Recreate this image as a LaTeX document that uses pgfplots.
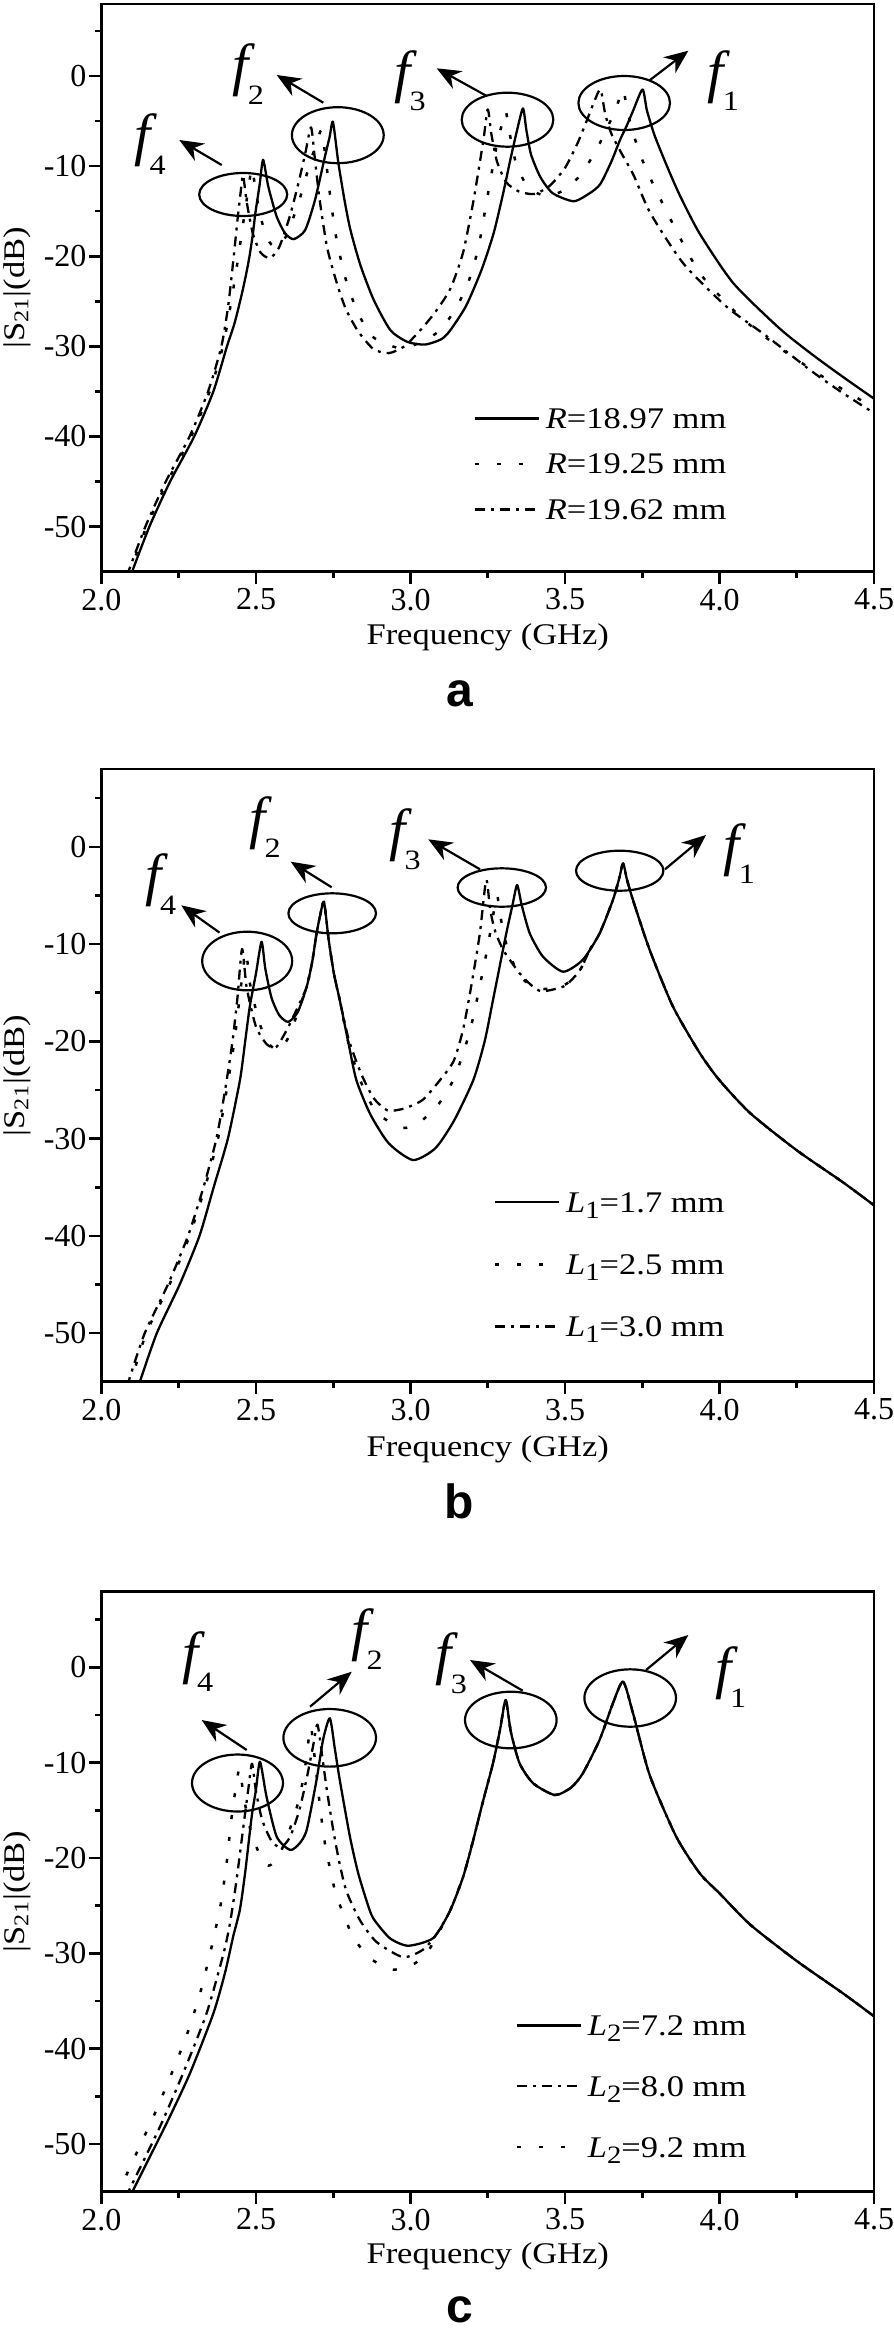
\documentclass[border=0pt]{standalone}
\usepackage{fontspec}
\setmainfont{Liberation Serif}
\newfontfamily\widefont{Liberation Serif}[FakeStretch=1.15]
\newfontfamily\sflab{Liberation Sans}
\usepackage{pgfplots}
\pgfplotsset{compat=1.18}
\usetikzlibrary{arrows.meta}
\newcommand\ticksfont{\fontsize{16}{19}\selectfont}
\newcommand\labfont{\widefont\fontsize{15}{18}\selectfont}
\newcommand\flab[1]{{\fontsize{29}{29}\selectfont\itshape f}\kern-0.5pt\raisebox{-9.75pt}{\widefont\fontsize{14}{14}\selectfont #1}}
\newcommand\sublab[1]{{\sflab\bfseries\fontsize{24}{24}\selectfont #1}}
\newcommand\sub[1]{\raisebox{-3pt}{\widefont\fontsize{12.5}{12.5}\selectfont #1}}
\newcommand\leg[1]{{\widefont\fontsize{15}{18}\selectfont #1}}
\pgfplotsset{
  myaxis/.style={
    scale only axis, width=386.25pt,
    xmin=2, xmax=4.5, ymin=-55, ymax=8,
    xtick={2,2.5,3,3.5,4,4.5}, ytick={-50,-40,-30,-20,-10,0},
    minor xtick={2.25,2.75,3.25,3.75,4.25},
    minor ytick={-45,-35,-25,-15,-5,5},
    xtick pos=bottom, ytick pos=left, tick align=outside,
    major tick length=6pt, minor tick length=3.2pt,
    every tick/.style={black, line width=1.3pt},
    axis line style={line width=1.4pt},
    /pgf/number format/assume math mode=true,
    xticklabel style={/pgf/number format/fixed, /pgf/number format/fixed zerofill, /pgf/number format/precision=1, yshift=1pt},
    yticklabel style={xshift=2pt},
    tick label style={font=\ticksfont},
    label style={font=\labfont},
    xlabel={Frequency (GHz)},
    ylabel={|S\textsubscript{21}|(dB)},
    ylabel style={at={(axis description cs:-0.1094,0.5)}, anchor=center},
    legend style={draw=none, fill=none, inner sep=0pt, anchor=north west, font=\labfont,
      nodes={inner sep=0pt, text height=11pt, text depth=3.5pt, anchor=base west}},
    legend cell align=left,
    legend image code/.code={\draw[##1] (0pt,5pt) -- (32pt,5pt); \path (35pt,5pt);},
    no markers,
  },
  sol/.style={black, line width=1.15pt, line join=round, solid, smooth, tension=0.4},
  dott/.style={black, line width=1.25pt, line join=round, dash pattern=on 2pt off 9pt, smooth, tension=0.4},
  dashdot/.style={black, line width=1.15pt, line join=round, dash pattern=on 5pt off 3pt on 1.5pt off 3pt, smooth, tension=0.4},
}
\begin{document}
\begin{tikzpicture}
\path[use as bounding box] (0,0) rectangle (447pt,-1164.5pt);
% ---------------- panel a ----------------
\begin{axis}[myaxis, at={(50.75pt,-1.95pt)}, anchor=north west, height=283.9pt,
  xlabel style={at={(axis description cs:0.5,0)}, anchor=center, yshift=-32.65pt},
  legend style={at={(axis description cs:0.4809,0.2918)}, row sep=8.25pt}]
\addplot[sol] coordinates {(2.094,-55.5) (2.099,-55) (2.155,-50) (2.222,-45) (2.300,-40) (2.362,-35) (2.406,-30) (2.430,-27.5) (2.452,-24.5) (2.468,-22) (2.479,-20) (2.490,-17.5) (2.498,-15.2) (2.512,-12) (2.523,-9.3) (2.540,-12.3) (2.567,-15.6) (2.594,-17.45) (2.622,-18.1) (2.659,-17.1) (2.691,-13.75) (2.723,-8.95) (2.738,-6.8) (2.749,-5.1) (2.766,-9.5) (2.785,-13.5) (2.805,-17) (2.838,-21) (2.881,-24.85) (2.935,-28.2) (2.99,-29.5) (3.047,-29.8) (3.10,-29.2) (3.129,-28.2) (3.18,-25.5) (3.23,-21.5) (3.269,-17.45) (3.30,-13) (3.323,-9.3) (3.345,-6.0) (3.364,-3.6) (3.375,-6.0) (3.39,-8.7) (3.42,-11.2) (3.46,-13.0) (3.528,-13.9) (3.58,-13.0) (3.614,-12.0) (3.65,-9.5) (3.678,-7.1) (3.70,-5.5) (3.721,-3.8) (3.751,-1.5) (3.765,-3.8) (3.79,-6.6) (3.83,-10.0) (3.871,-13.2) (3.936,-17.5) (4.045,-23.0) (4.194,-28.0) (4.30,-30.9) (4.40,-33.4) (4.50,-35.8)};
\addlegendentry{\leg{\textit{R}=18.97 mm}}
\addplot[dott] coordinates {(2.087,-55.5) (2.092,-55) (2.146,-50) (2.213,-45) (2.290,-40) (2.350,-35) (2.393,-30) (2.420,-25) (2.443,-20) (2.462,-15.5) (2.475,-12.6) (2.487,-10.2) (2.50,-13) (2.52,-16.3) (2.545,-18.5) (2.57,-19.0) (2.60,-17.6) (2.64,-13.8) (2.675,-9.6) (2.695,-7.6) (2.712,-6.0) (2.725,-9.0) (2.74,-13.3) (2.76,-18.0) (2.79,-22.5) (2.83,-26.3) (2.88,-29.0) (2.964,-30.2) (3.03,-29.6) (3.096,-28.2) (3.15,-25.6) (3.19,-22.6) (3.22,-19.0) (3.247,-13.8) (3.28,-7.5) (3.295,-5.5) (3.308,-3.9) (3.32,-6.2) (3.34,-9.5) (3.37,-11.8) (3.41,-13.0) (3.45,-13.3) (3.50,-12.6) (3.55,-11.0) (3.60,-8.3) (3.64,-5.5) (3.665,-3.6) (3.688,-1.5) (3.70,-3.6) (3.72,-6.3) (3.75,-9.3) (3.781,-11.7) (3.846,-16.2) (3.937,-21.9) (4.067,-26.7) (4.20,-30.3) (4.30,-32.6) (4.40,-34.8) (4.50,-36.8)};
\addlegendentry{\leg{\textit{R}=19.25 mm}}
\addplot[dashdot] coordinates {(2.082,-55.5) (2.087,-55) (2.142,-50) (2.208,-45) (2.285,-40) (2.345,-35) (2.388,-30) (2.410,-25.5) (2.428,-20) (2.440,-16) (2.450,-13) (2.458,-11.0) (2.470,-14) (2.490,-17.5) (2.515,-19.6) (2.545,-20.2) (2.575,-19.0) (2.61,-15.5) (2.64,-11.5) (2.66,-8.5) (2.678,-5.7) (2.69,-9.0) (2.705,-13.5) (2.73,-19.0) (2.76,-22.8) (2.79,-25.8) (2.83,-28.3) (2.88,-30.3) (2.93,-30.75) (2.98,-30.0) (3.032,-28.2) (3.08,-26.2) (3.129,-23.6) (3.17,-19.6) (3.204,-13.8) (3.236,-7.1) (3.25,-3.7) (3.262,-6.5) (3.28,-9.5) (3.31,-11.8) (3.35,-12.8) (3.40,-13.1) (3.45,-12.2) (3.50,-10.2) (3.54,-7.5) (3.57,-5.0) (3.595,-2.8) (3.615,-1.5) (3.63,-4.2) (3.65,-6.4) (3.68,-8.4) (3.722,-11.0) (3.776,-15.2) (3.883,-20.8) (4.023,-25.6) (4.15,-28.8) (4.30,-32.8) (4.40,-35.2) (4.50,-37.4)};
\addlegendentry{\leg{\textit{R}=19.62 mm}}
\end{axis}
% ---------------- panel b ----------------
\begin{axis}[myaxis, at={(50.75pt,-384.5pt)}, anchor=north west, height=306.4pt,
  xlabel style={at={(axis description cs:0.5,0)}, anchor=center, yshift=-33.6pt},
  legend style={at={(axis description cs:0.5071,0.3135)}, row sep=16.6pt}]
\addplot[sol] coordinates {(2.119,-55.5) (2.124,-55) (2.179,-50) (2.253,-45) (2.317,-40) (2.363,-35) (2.409,-30) (2.448,-24) (2.465,-20) (2.480,-16.4) (2.50,-13) (2.518,-9.76) (2.53,-12.5) (2.55,-15.5) (2.575,-17.3) (2.604,-18.0) (2.635,-17.0) (2.664,-14.4) (2.682,-11.8) (2.696,-8.9) (2.708,-7.0) (2.72,-5.64) (2.735,-9.5) (2.752,-13.0) (2.771,-15.75) (2.80,-20.3) (2.825,-24.0) (2.87,-27.5) (2.93,-30.5) (3.008,-32.2) (3.08,-31.0) (3.14,-28.2) (3.203,-24.0) (3.24,-20.0) (3.267,-15.75) (3.31,-8.9) (3.33,-6.0) (3.345,-3.93) (3.36,-6.0) (3.386,-8.9) (3.429,-11.3) (3.494,-12.84) (3.558,-11.6) (3.612,-8.9) (3.655,-5.47) (3.675,-3.3) (3.688,-1.7) (3.70,-3.3) (3.72,-5.47) (3.774,-10.6) (3.849,-16.4) (3.936,-21.2) (4.0,-24.0) (4.1,-27.4) (4.25,-31.2) (4.4,-34.5) (4.5,-36.85)};
\addlegendentry{\leg{\textit{L}\sub{1}=1.7 mm}}
\addplot[dott] coordinates {(2.090,-55.5) (2.095,-55) (2.145,-50) (2.220,-45) (2.285,-40) (2.335,-35) (2.377,-30) (2.405,-25) (2.430,-20) (2.447,-15.5) (2.467,-10.8) (2.48,-14.0) (2.51,-18.0) (2.54,-20.2) (2.575,-20.9) (2.61,-19.3) (2.64,-16.5) (2.664,-14.4) (2.682,-11.8) (2.696,-8.9) (2.708,-7.0) (2.72,-5.64) (2.735,-9.5) (2.752,-13.0) (2.771,-15.75) (2.80,-20.3) (2.84,-24.2) (2.89,-27.3) (2.972,-28.9) (3.03,-28.3) (3.09,-26.5) (3.138,-24.0) (3.175,-20.8) (3.203,-17.5) (3.246,-10.9) (3.265,-7.5) (3.28,-5.0) (3.29,-7.0) (3.31,-10.0) (3.34,-12.5) (3.37,-13.8) (3.42,-14.6) (3.46,-14.5) (3.504,-14.1) (3.548,-12.7) (3.58,-10.6) (3.612,-8.9) (3.655,-5.47) (3.675,-3.3) (3.688,-1.7) (3.70,-3.3) (3.72,-5.47) (3.774,-10.6) (3.849,-16.4) (3.936,-21.2) (4.0,-24.0) (4.1,-27.4) (4.25,-31.2) (4.4,-34.5) (4.5,-36.85)};
\addlegendentry{\leg{\textit{L}\sub{1}=2.5 mm}}
\addplot[dashdot] coordinates {(2.082,-55.5) (2.087,-55) (2.140,-50) (2.215,-45) (2.280,-40) (2.330,-35) (2.372,-30) (2.400,-25) (2.424,-20) (2.440,-15.5) (2.455,-10.5) (2.47,-14.5) (2.50,-18.5) (2.535,-20.3) (2.565,-20.6) (2.60,-18.8) (2.635,-16.5) (2.664,-14.4) (2.682,-11.8) (2.696,-8.9) (2.708,-7.0) (2.72,-5.64) (2.735,-9.5) (2.752,-13.0) (2.771,-15.75) (2.80,-19.8) (2.84,-23.3) (2.88,-25.8) (2.926,-27.1) (2.98,-26.9) (3.04,-26.0) (3.095,-24.0) (3.14,-22.0) (3.17,-18.8) (3.195,-14.6) (3.224,-9.0) (3.245,-3.4) (3.258,-6.5) (3.275,-8.8) (3.30,-10.6) (3.321,-11.6) (3.353,-13.0) (3.39,-14.2) (3.423,-14.86) (3.47,-14.6) (3.504,-14.2) (3.548,-12.7) (3.58,-10.6) (3.612,-8.9) (3.655,-5.47) (3.675,-3.3) (3.688,-1.7) (3.70,-3.3) (3.72,-5.47) (3.774,-10.6) (3.849,-16.4) (3.936,-21.2) (4.0,-24.0) (4.1,-27.4) (4.25,-31.2) (4.4,-34.5) (4.5,-36.85)};
\addlegendentry{\leg{\textit{L}\sub{1}=3.0 mm}}
\end{axis}
% ---------------- panel c ----------------
\begin{axis}[myaxis, at={(50.75pt,-795.55pt)}, anchor=north west, height=300.3pt,
  xlabel style={at={(axis description cs:0.5,0)}, anchor=center, yshift=-32.15pt},
  legend style={at={(axis description cs:0.5353,0.2975)}, row sep=15.9pt}]
\addplot[sol] coordinates {(2.096,-55.5) (2.100,-55) (2.211,-47.8) (2.286,-42.6) (2.362,-36.3) (2.40,-32) (2.426,-28.25) (2.448,-25.4) (2.465,-21.5) (2.486,-15.66) (2.50,-12.8) (2.513,-9.89) (2.534,-13.56) (2.567,-17.76) (2.610,-19.15) (2.64,-18.5) (2.664,-17.06) (2.696,-11.8) (2.717,-7.6) (2.739,-5.34) (2.755,-8.5) (2.771,-11.8) (2.804,-17.76) (2.83,-21.5) (2.858,-24.5) (2.879,-26.3) (2.933,-28.4) (2.992,-29.2) (3.073,-28.4) (3.127,-25.6) (3.17,-22.0) (3.20,-18.5) (3.235,-14.0) (3.267,-10.06) (3.29,-6.5) (3.308,-3.42) (3.325,-6.8) (3.353,-10.06) (3.397,-12.16) (3.467,-13.39) (3.52,-12.6) (3.558,-11.1) (3.612,-7.6) (3.655,-3.77) (3.688,-1.5) (3.720,-4.8) (3.774,-11.3) (3.860,-17.76) (3.936,-21.6) (4.0,-23.7) (4.1,-27.0) (4.25,-30.8) (4.4,-34.2) (4.5,-36.6)};
\addlegendentry{\leg{\textit{L}\sub{2}=7.2 mm}}
\addplot[dashdot] coordinates {(2.082,-55.5) (2.087,-55) (2.189,-48.2) (2.265,-42.5) (2.340,-36.3) (2.395,-30) (2.416,-26.8) (2.437,-22.3) (2.46,-16.5) (2.475,-12.8) (2.487,-10.1) (2.50,-13.0) (2.52,-16.0) (2.55,-18.2) (2.58,-18.9) (2.61,-17.8) (2.64,-15.0) (2.665,-11.5) (2.685,-8.2) (2.699,-6.0) (2.715,-9.5) (2.73,-13.0) (2.750,-17.06) (2.77,-20.5) (2.793,-23.5) (2.836,-26.5) (2.890,-28.8) (2.976,-30.4) (3.041,-29.6) (3.084,-28.0) (3.127,-25.6) (3.17,-22.0) (3.20,-18.5) (3.235,-14.0) (3.267,-10.06) (3.29,-6.5) (3.308,-3.42) (3.325,-6.8) (3.353,-10.06) (3.397,-12.16) (3.467,-13.39) (3.52,-12.6) (3.558,-11.1) (3.612,-7.6) (3.655,-3.77) (3.688,-1.5) (3.720,-4.8) (3.774,-11.3) (3.860,-17.76) (3.936,-21.6) (4.0,-23.7) (4.1,-27.0) (4.25,-30.8) (4.4,-34.2) (4.5,-36.6)};
\addlegendentry{\leg{\textit{L}\sub{2}=8.0 mm}}
\addplot[dott] coordinates {(2.063,-55.5) (2.068,-55) (2.076,-53.6) (2.178,-46.4) (2.270,-39.1) (2.319,-34.2) (2.355,-29.5) (2.385,-25.0) (2.405,-20.5) (2.420,-16.0) (2.435,-12.5) (2.447,-10.6) (2.46,-13.5) (2.48,-16.8) (2.51,-19.5) (2.54,-20.8) (2.57,-20.0) (2.60,-17.8) (2.625,-15.5) (2.645,-13.0) (2.662,-9.8) (2.677,-6.2) (2.69,-9.5) (2.705,-14.0) (2.723,-18.45) (2.755,-23.35) (2.782,-25.8) (2.814,-28.25) (2.868,-30.5) (2.944,-31.7) (3.014,-31.05) (3.06,-29.6) (3.10,-27.3) (3.127,-25.6) (3.17,-22.0) (3.20,-18.5) (3.235,-14.0) (3.267,-10.06) (3.29,-6.5) (3.308,-3.42) (3.325,-6.8) (3.353,-10.06) (3.397,-12.16) (3.467,-13.39) (3.52,-12.6) (3.558,-11.1) (3.612,-7.6) (3.655,-3.77) (3.688,-1.5) (3.720,-4.8) (3.774,-11.3) (3.860,-17.76) (3.936,-21.6) (4.0,-23.7) (4.1,-27.0) (4.25,-30.8) (4.4,-34.2) (4.5,-36.6)};
\addlegendentry{\leg{\textit{L}\sub{2}=9.2 mm}}
\end{axis}
% ---------------- annotations (pixel grid of the reference) ----------------
\begin{scope}[x=0.5pt,y=-0.5pt, line width=1.1pt, >={Stealth[length=12pt,width=10pt]}]
% panel a
\draw (243.2,194.5) ellipse [x radius=22pt, y radius=10.75pt];
\draw (337.8,135.2) ellipse [x radius=22.95pt, y radius=14pt];
\draw (507.5,119.7) ellipse [x radius=22.9pt, y radius=13.5pt];
\draw (624.2,103) ellipse [x radius=22.9pt, y radius=13.5pt];
\draw[->] (221.7,165) -- (179.3,140);
\draw[->] (323.3,102.7) -- (276.7,75);
\draw[->] (486.7,96) -- (436.7,68.3);
\draw[->] (650,80) -- (688.3,50.7);
\node[anchor=base west, inner sep=0pt] at (133.3,154.5) {\flab{4}};
\node[anchor=base west, inner sep=0pt] at (231.7,84.5) {\flab{2}};
\node[anchor=base west, inner sep=0pt] at (393.3,91.2) {\flab{3}};
\node[anchor=base west, inner sep=0pt] at (706.7,91.2) {\flab{1}};
\node at (460,694) {\sublab{a}};
% panel b
\draw (247.2,961) ellipse [x radius=22.5pt, y radius=14.65pt];
\draw (332.2,913.3) ellipse [x radius=21.9pt, y radius=10pt];
\draw (501.8,887.5) ellipse [x radius=22.1pt, y radius=9.6pt];
\draw (619.7,870.7) ellipse [x radius=21.85pt, y radius=10pt];
\draw[->] (219.5,932.6) -- (181.3,905.3);
\draw[->] (331.7,887.3) -- (290.7,861.7);
\draw[->] (480,869.3) -- (428.3,839.3);
\draw[->] (665,869.3) -- (706,835);
\node[anchor=base west, inner sep=0pt] at (144,894.8) {\flab{4}};
\node[anchor=base west, inner sep=0pt] at (248.3,837.5) {\flab{2}};
\node[anchor=base west, inner sep=0pt] at (388.3,849.5) {\flab{3}};
\node[anchor=base west, inner sep=0pt] at (722.7,864) {\flab{1}};
\node at (459,1501) {\sublab{b}};
% panel c
\draw (237.5,1783) ellipse [x radius=22.75pt, y radius=14.25pt];
\draw (329.7,1737.8) ellipse [x radius=23.15pt, y radius=14.4pt];
\draw (510.8,1720) ellipse [x radius=22.9pt, y radius=14.15pt];
\draw (630.2,1698) ellipse [x radius=22.9pt, y radius=14.35pt];
\draw[->] (246.7,1750) -- (201.7,1720);
\draw[->] (310,1706.7) -- (351.7,1671.7);
\draw[->] (522.7,1690.7) -- (470,1660);
\draw[->] (646,1670) -- (688.3,1635);
\node[anchor=base west, inner sep=0pt] at (181,1672.4) {\flab{4}};
\node[anchor=base west, inner sep=0pt] at (350.4,1649.5) {\flab{2}};
\node[anchor=base west, inner sep=0pt] at (434.7,1673.5) {\flab{3}};
\node[anchor=base west, inner sep=0pt] at (714,1687.5) {\flab{1}};
\node at (460,2310) {\sublab{c}};
\end{scope}
\end{tikzpicture}
\end{document}
